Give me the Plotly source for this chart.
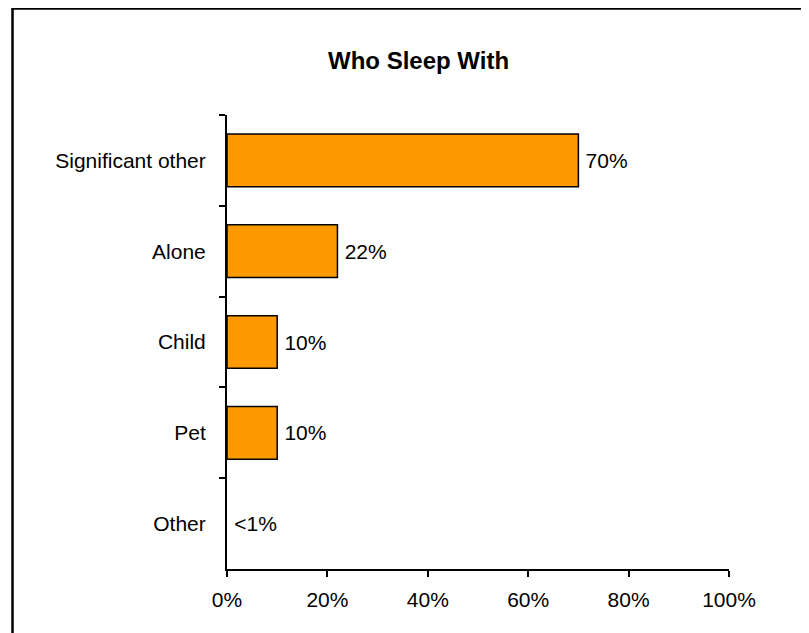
import plotly.graph_objects as go

categories = ["Significant other", "Alone", "Child", "Pet", "Other"]
values = [70, 22, 10, 10, 0]
value_labels = ["70%", "22%", "10%", "10%", "<1%"]
x_ticks = [0, 20, 40, 60, 80, 100]
x_tick_labels = ["0%", "20%", "40%", "60%", "80%", "100%"]
title = "Who Sleep With"

W, H = 809, 633
L, R, T, B = 219, 721, 107, 561

def px_x(p):
    return (p - L) / (R - L)

def px_y(p):
    return (B - p) / (B - T)

FONT = "Liberation Sans, Arial, sans-serif"

fig = go.Figure()
fig.add_trace(go.Bar(
    y=categories, x=values, orientation="h",
    marker=dict(color="#FF9900",
                line=dict(color="black", width=[1.5 if v > 0 else 0 for v in values])),
    text=["\u2009" + t for t in value_labels], textposition="outside",
    textfont=dict(family=FONT, size=21, color="black"),
    cliponaxis=False, width=0.58,
))

fig.update_layout(
    width=W, height=H,
    margin=dict(l=L, r=W - R, t=T, b=H - B),
    plot_bgcolor="white", paper_bgcolor="white",
    showlegend=False,
    font=dict(family=FONT, size=21, color="black"),
    xaxis=dict(range=[0, 100], tickvals=x_ticks, ticktext=x_tick_labels,
               showgrid=False, zeroline=False, showline=True, linecolor="black",
               linewidth=2, ticks="outside", ticklen=6, tickwidth=2, tickcolor="black",
               ticklabelstandoff=5, fixedrange=True),
    yaxis=dict(categoryorder="array", categoryarray=categories, autorange="reversed",
               showgrid=False, zeroline=False, showline=True, linecolor="black",
               linewidth=2, ticks="outside", ticklen=6, tickwidth=2, tickcolor="black",
               tickson="boundaries", ticklabelstandoff=15,
               fixedrange=True),
    shapes=[dict(type="rect", xref="paper", yref="paper",
                 x0=px_x(4.5), x1=px_x(815), y0=px_y(0.5), y1=px_y(640),
                 line=dict(color="black", width=2.5), fillcolor="rgba(0,0,0,0)",
                 layer="above")],
    annotations=[dict(text="<b>" + title + "</b>", xref="paper", yref="paper",
                      x=px_x(410), y=px_y(52), xanchor="center", yanchor="middle",
                      showarrow=False, font=dict(family=FONT, size=24, color="black"))],
)

fig.write_html("out.html")
